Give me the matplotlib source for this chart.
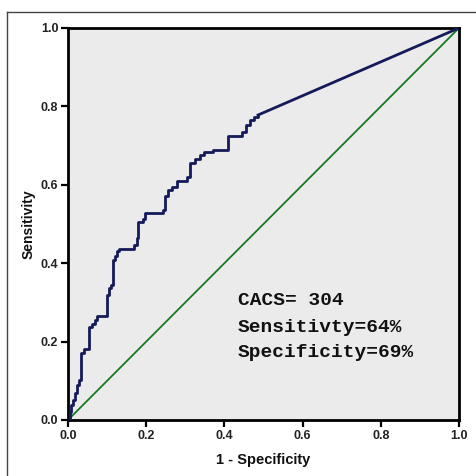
import matplotlib
matplotlib.use("Agg")
import matplotlib.pyplot as plt
from matplotlib.lines import Line2D

# ROC staircase: at each fpr value the curve rises to the given sensitivity
fpr = [0.000, 0.005, 0.008, 0.013, 0.018, 0.023, 0.028, 0.033, 0.041, 0.054,
       0.061, 0.069, 0.074, 0.100, 0.105, 0.110, 0.115, 0.120, 0.125, 0.130,
       0.169, 0.176, 0.179, 0.192, 0.197, 0.243, 0.248, 0.256, 0.266, 0.279,
       0.304, 0.312, 0.325, 0.338, 0.348, 0.371, 0.409, 0.445, 0.455, 0.465,
       0.476, 0.486]
tpr = [0.000, 0.020, 0.038, 0.051, 0.069, 0.089, 0.102, 0.171, 0.181, 0.237,
       0.245, 0.255, 0.265, 0.319, 0.337, 0.344, 0.408, 0.418, 0.431, 0.436,
       0.446, 0.464, 0.505, 0.513, 0.528, 0.536, 0.571, 0.587, 0.594, 0.610,
       0.620, 0.656, 0.666, 0.676, 0.684, 0.689, 0.724, 0.735, 0.753, 0.765,
       0.773, 0.778]
end_point = (1.0, 1.0)
ref_line = [0.0, 1.0]
ticks = [0.0, 0.2, 0.4, 0.6, 0.8, 1.0]
tick_labels = ["0.0", "0.2", "0.4", "0.6", "0.8", "1.0"]
annotations = ["CACS= 304", "Sensitivty=64%", "Specificity=69%"]

fig = plt.figure(figsize=(4.77, 4.76), dpi=100)
fig.patch.set_facecolor("white")
ax = fig.add_axes([68/477, 56/476, 391/477, 392/476])
ax.set_facecolor("#ebebeb")

curve_col = "#141a5a"
ax.plot(ref_line, ref_line, color="#157a1f", lw=1.3, zorder=2)
ax.plot(fpr, tpr, color=curve_col, lw=2.0, zorder=3, drawstyle="steps-post")
ax.plot([fpr[-1], end_point[0]], [tpr[-1], end_point[1]], color=curve_col, lw=2.0, zorder=3)

ax.set_xlim(0, 1)
ax.set_ylim(0, 1)
ax.set_xticks(ticks)
ax.set_yticks(ticks)
ax.set_xticklabels(tick_labels)
ax.set_yticklabels(tick_labels)
for s in ax.spines.values():
    s.set_linewidth(2.0)
    s.set_color("black")
ax.tick_params(direction="out", length=5, width=1.6, color="black", pad=2)
for lab in ax.get_xticklabels() + ax.get_yticklabels():
    lab.set_fontfamily("Liberation Sans")
    lab.set_fontweight("bold")
    lab.set_fontsize(9)
    lab.set_color("#222222")

ax.set_xlabel("1 - Specificity", fontfamily="Liberation Sans", fontweight="bold",
              fontsize=10.5, labelpad=8, color="#111111")
ax.set_ylabel("Sensitivity", fontfamily="Liberation Sans", fontweight="bold",
              fontsize=10, labelpad=4, color="#111111")

ys = [0.306, 0.237, 0.173]
for t, y in zip(annotations, ys):
    ax.text(0.435, y, t, fontfamily="Liberation Mono", fontweight="bold",
            fontsize=14, color="#111111", va="center", ha="left")

# outer frame lines
fig.add_artist(Line2D([7/477, 1.0], [1 - 12/476, 1 - 12/476], transform=fig.transFigure,
                      color="#444444", lw=1.0))
fig.add_artist(Line2D([7/477, 7/477], [0.0, 1 - 12/476], transform=fig.transFigure,
                      color="#444444", lw=1.0))

fig.savefig("out.png", dpi=100)
